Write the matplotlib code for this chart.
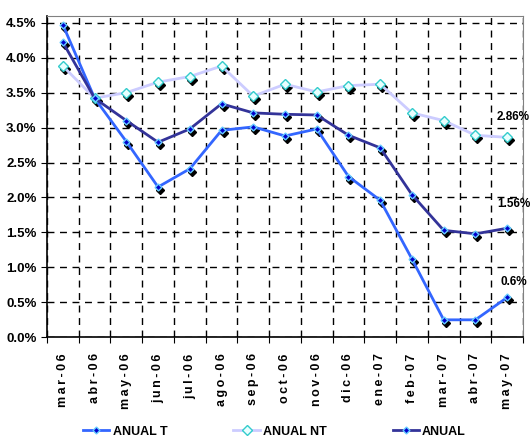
import matplotlib
matplotlib.use('Agg')
import matplotlib.pyplot as plt
import matplotlib.transforms as mtransforms
from matplotlib.ticker import FuncFormatter, FixedLocator

# ----- DATA -----
months = ['mar-06', 'abr-06', 'may-06', 'jun-06', 'jul-06', 'ago-06', 'sep-06', 'oct-06',
          'nov-06', 'dic-06', 'ene-07', 'feb-07', 'mar-07', 'abr-07', 'may-07']
anual_t = [4.47, 3.42, 2.80, 2.15, 2.41, 2.96, 3.01, 2.88, 2.98, 2.30, 1.96, 1.12, 0.25, 0.25, 0.57]
anual_nt = [3.88, 3.42, 3.50, 3.65, 3.73, 3.88, 3.45, 3.62, 3.51, 3.60, 3.62, 3.21, 3.10, 2.89, 2.86]
anual = [4.22, 3.42, 3.10, 2.79, 2.98, 3.34, 3.21, 3.19, 3.18, 2.89, 2.71, 2.04, 1.53, 1.48, 1.56]
end_labels = ['0.6%', '2.86%', '1.56%']

plt.rcParams['font.family'] = ['Liberation Sans Narrow', 'Liberation Sans', 'DejaVu Sans']
plt.rcParams['font.weight'] = 'bold'

fig = plt.figure(figsize=(5.31, 4.40), dpi=100)
ax = fig.add_axes([0.0885, 0.2334, 0.8965, 0.7309])

x = list(range(len(months)))
shadow = mtransforms.offset_copy(ax.transData, fig=fig, x=2, y=-3, units='dots')

series = [
    (anual_t, 'ANUAL T', '#3366FF', 3.5, '#0000CC', '#66CCFF'),
    (anual_nt, 'ANUAL NT', '#CCCCFF', 5, '#E8FFFF', '#33CCCC'),
    (anual, 'ANUAL', '#333399', 3.5, '#0000CC', '#66CCFF'),
]

for vals, name, col, ms, mfc, mec in series:
    # black marker shadows like the old excel chart
    ax.plot(x, vals, linestyle='none', marker='D', ms=ms + 0.5, color='black',
            transform=shadow, zorder=2, clip_on=False)
for vals, name, col, ms, mfc, mec in series:
    ax.plot(x, vals, color=col, lw=2, marker='D', ms=ms, mfc=mfc, mec=mec, mew=1,
            label=name, zorder=3, clip_on=False)

# labels at the last point
ax.text(14.2, 0.79, end_labels[0], ha='center', va='center', fontsize=8.5, fontweight='bold')
ax.text(14.2, 3.145, end_labels[1], ha='center', va='center', fontsize=8.5, fontweight='bold')
ax.text(14.2, 1.90, end_labels[2], ha='center', va='center', fontsize=8.5, fontweight='bold')

ax.set_xlim(-0.5, len(months) - 0.5)
ax.set_ylim(0, 4.6)
ax.yaxis.set_major_locator(FixedLocator([i * 0.5 for i in range(10)]))
ax.yaxis.set_major_formatter(FuncFormatter(lambda v, p: f'{v:.1f}%'))

# categories sit between ticks / vertical gridlines
ax.set_xticks([i - 0.5 for i in range(len(months) + 1)])
ax.set_xticklabels([])
ax.set_xticks(x, minor=True)
spaced = ['\u2009'.join(m) for m in months]
ax.set_xticklabels(spaced, minor=True, rotation=90, fontsize=9, fontweight='bold')
ax.tick_params(axis='x', which='minor', length=0, pad=11.5)
ax.tick_params(axis='x', which='major', length=4, direction='out', color='black')
ax.tick_params(axis='y', length=4, direction='out', labelsize=9.5)
for lab in ax.get_yticklabels():
    lab.set_fontweight('bold')

ax.grid(True, which='major', color='black', linestyle=(0, (5, 4)), lw=1)
ax.set_axisbelow(True)

ax.spines['left'].set_color('black')
ax.spines['bottom'].set_color('black')
ax.spines['left'].set_linewidth(1.2)
ax.spines['bottom'].set_linewidth(1.2)
ax.spines['top'].set_color('#808080')
ax.spines['right'].set_color('#808080')

leg = fig.legend(loc='center', bbox_to_anchor=(0.517, 0.019), ncol=3, frameon=False,
                 prop={'weight': 'bold', 'size': 9}, handlelength=2.1, columnspacing=5.3,
                 handletextpad=0.25)

fig.savefig('out.png', dpi=100)
